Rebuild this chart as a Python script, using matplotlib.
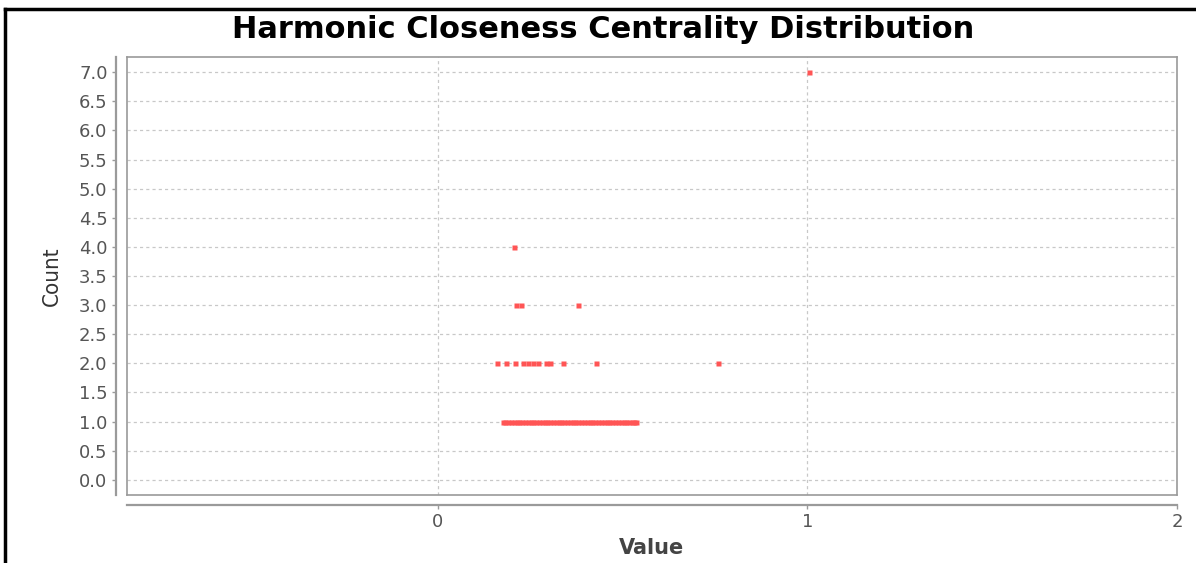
import matplotlib
matplotlib.use("Agg")
import matplotlib.pyplot as plt
from matplotlib.lines import Line2D

# Data: (value, count) pairs
count7_values = [1.005]
count4_values = [0.208]
count3_values = [0.213, 0.225, 0.381]
count2_values = [0.161, 0.186, 0.209, 0.232, 0.245, 0.258, 0.271, 0.292, 0.305,
                 0.339, 0.428, 0.758]
count1_values = [0.176, 0.183, 0.191, 0.198, 0.206, 0.214, 0.221, 0.229, 0.236,
                 0.244, 0.252, 0.259, 0.267, 0.275, 0.282, 0.290, 0.297, 0.305,
                 0.313, 0.320, 0.328, 0.335, 0.343, 0.351, 0.358, 0.366, 0.373,
                 0.381, 0.389, 0.396, 0.404, 0.411, 0.419, 0.427, 0.434, 0.442,
                 0.449, 0.457, 0.465, 0.472, 0.480, 0.487, 0.495, 0.503, 0.510,
                 0.518, 0.525, 0.532, 0.538]

y_ticks = [0.0, 0.5, 1.0, 1.5, 2.0, 2.5, 3.0, 3.5, 4.0, 4.5, 5.0, 5.5, 6.0, 6.5, 7.0]
x_ticks = [0, 1, 2]

W, H = 1196, 563
fig = plt.figure(figsize=(W / 100, H / 100), dpi=100)
fig.patch.set_facecolor("white")

# outer black border (left & top)
fig.add_artist(Line2D([5 / W, 5 / W], [0, 1 - 9 / H], color="black", lw=2.5,
                      transform=fig.transFigure))
fig.add_artist(Line2D([5 / W, 1], [1 - 9 / H, 1 - 9 / H], color="black", lw=2.5,
                      transform=fig.transFigure))

ax = fig.add_axes([127 / W, 1 - 495 / H, (1177 - 127) / W, (495 - 57) / H])

series = [(count1_values, 1), (count2_values, 2), (count3_values, 3),
          (count4_values, 4), (count7_values, 7)]
for vals, c in series:
    ax.plot(vals, [c] * len(vals), linestyle="none", marker="s", ms=3.6,
            mfc="#ff5555", mec="none", zorder=3)

ax.set_xlim(-0.84, 2.0)
ax.set_ylim(-0.26, 7.26)
ax.set_yticks(y_ticks)
ax.set_yticklabels([f"{v:.1f}" for v in y_ticks])
ax.set_xticks(x_ticks)
ax.set_xticklabels([str(v) for v in x_ticks])

ax.grid(True, color="#c8c8c8", linestyle=(0, (2.5, 2.5)), linewidth=0.9, zorder=0)

frame_col = "#9a9a9a"
for s in ["top", "right"]:
    ax.spines[s].set_color(frame_col)
    ax.spines[s].set_linewidth(1.2)
ax.spines["left"].set_position(("outward", 8))
ax.spines["bottom"].set_position(("outward", 7))
for s in ["left", "bottom"]:
    ax.spines[s].set_color(frame_col)
    ax.spines[s].set_linewidth(1.6)

# inner frame lines (left and bottom of the plot area)
ax.add_line(Line2D([0, 0], [0, 1], transform=ax.transAxes, color=frame_col,
                   lw=1.2, clip_on=False))
ax.add_line(Line2D([0, 1], [0, 0], transform=ax.transAxes, color=frame_col,
                   lw=1.2, clip_on=False))

ax.tick_params(axis="both", colors=frame_col, labelcolor="#555555",
               labelsize=13, length=3, width=1)
ax.tick_params(axis="y", pad=3)
ax.tick_params(axis="x", pad=3)

ax.set_ylabel("Count", fontsize=16, color="#333333", fontstretch="condensed",
              labelpad=12)
ax.set_xlabel("Value", fontsize=15, color="#444444", fontweight="bold", labelpad=5)

fig.text(603 / W, 1 - 30 / H, "Harmonic Closeness Centrality Distribution",
         ha="center", va="center", fontsize=22, fontweight="heavy", color="black")

fig.savefig("out.png", dpi=100, facecolor="white")
